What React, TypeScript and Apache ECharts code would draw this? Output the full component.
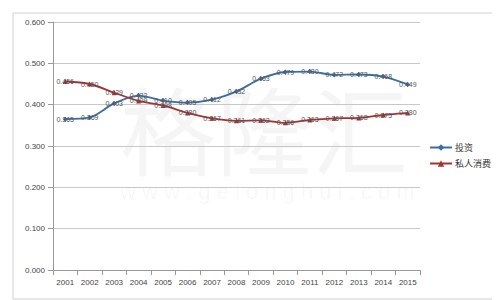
import React, { useEffect, useRef } from "react";
import * as echarts from "echarts";

const years = ["2001","2002","2003","2004","2005","2006","2007","2008","2009","2010","2011","2012","2013","2014","2015"];
const investment = [0.365,0.369,0.403,0.422,0.410,0.405,0.412,0.432,0.463,0.479,0.480,0.472,0.473,0.468,0.449];
const consumption = [0.456,0.450,0.429,0.409,0.398,0.380,0.367,0.361,0.362,0.356,0.363,0.367,0.368,0.375,0.380];
const seriesNames = ["投资", "私人消费"];

export default function App() {
  const ref = useRef<HTMLDivElement>(null);
  useEffect(() => {
    const chart = echarts.init(ref.current!, null, { renderer: "svg" });
    const label = {
      show: true,
      position: "inside" as const,
      fontSize: 7,
      color: "#555",
      fontFamily: "Liberation Sans",
      formatter: (p: any) => Number(p.value).toFixed(3),
    };
    chart.setOption({
      animation: false,
      backgroundColor: "#fff",
      grid: { left: 45, right: 80, top: 14, bottom: 30 },
      graphic: [
        {
          type: "rect",
          shape: { x: 5, y: 5, width: 482, height: 286 },
          style: { fill: "none", stroke: "#d0d0d0", lineWidth: 1 },
        },
        {
          type: "text",
          x: 112, y: 70,
          style: { text: "格隆汇", fontSize: 96, fill: "rgba(0,0,0,0.04)", fontFamily: "Noto Sans CJK SC" },
        },
        {
          type: "text",
          x: 112, y: 172,
          style: { text: "w w w . g e l o n g h u i . c o m", fontSize: 22, fill: "rgba(0,0,0,0.045)", fontFamily: "Liberation Sans" },
        },
      ],
      legend: {
        orient: "vertical",
        left: 416,
        top: 130,
        itemWidth: 22,
        itemHeight: 8,
        itemGap: 7,
        textStyle: { fontSize: 9, color: "#333", fontFamily: "Noto Sans CJK SC", padding: [0, 0, 0, -2] },
        data: seriesNames,
      },
      xAxis: {
        type: "category",
        data: years,
        boundaryGap: true,
        axisLine: { lineStyle: { color: "#999" } },
        axisTick: { show: true, lineStyle: { color: "#999" } },
        axisLabel: { fontSize: 8, color: "#444", fontFamily: "Liberation Sans", interval: 0 },
      },
      yAxis: {
        type: "value",
        min: 0,
        max: 0.6,
        interval: 0.1,
        axisLine: { show: true, lineStyle: { color: "#999" } },
        axisTick: { show: true, lineStyle: { color: "#999" } },
        axisLabel: { fontSize: 8, color: "#444", fontFamily: "Liberation Sans", formatter: (v: number) => v.toFixed(3) },
        splitLine: { lineStyle: { color: "#c8c8c8" } },
      },
      series: [
        {
          name: seriesNames[0],
          type: "line",
          data: investment,
          smooth: 0.3,
          symbol: "diamond",
          symbolSize: 5,
          itemStyle: { color: "#3a6ea5" },
          lineStyle: { width: 1.8, color: "#3a6ea5" },
          label,
        },
        {
          name: seriesNames[1],
          type: "line",
          data: consumption,
          smooth: 0.3,
          symbol: "triangle",
          symbolSize: 5,
          itemStyle: { color: "#a33232" },
          lineStyle: { width: 1.8, color: "#a33232" },
          label,
        },
      ],
    });
    return () => chart.dispose();
  }, []);
  return <div ref={ref} style={{ width: 492, height: 292 }} />;
}
